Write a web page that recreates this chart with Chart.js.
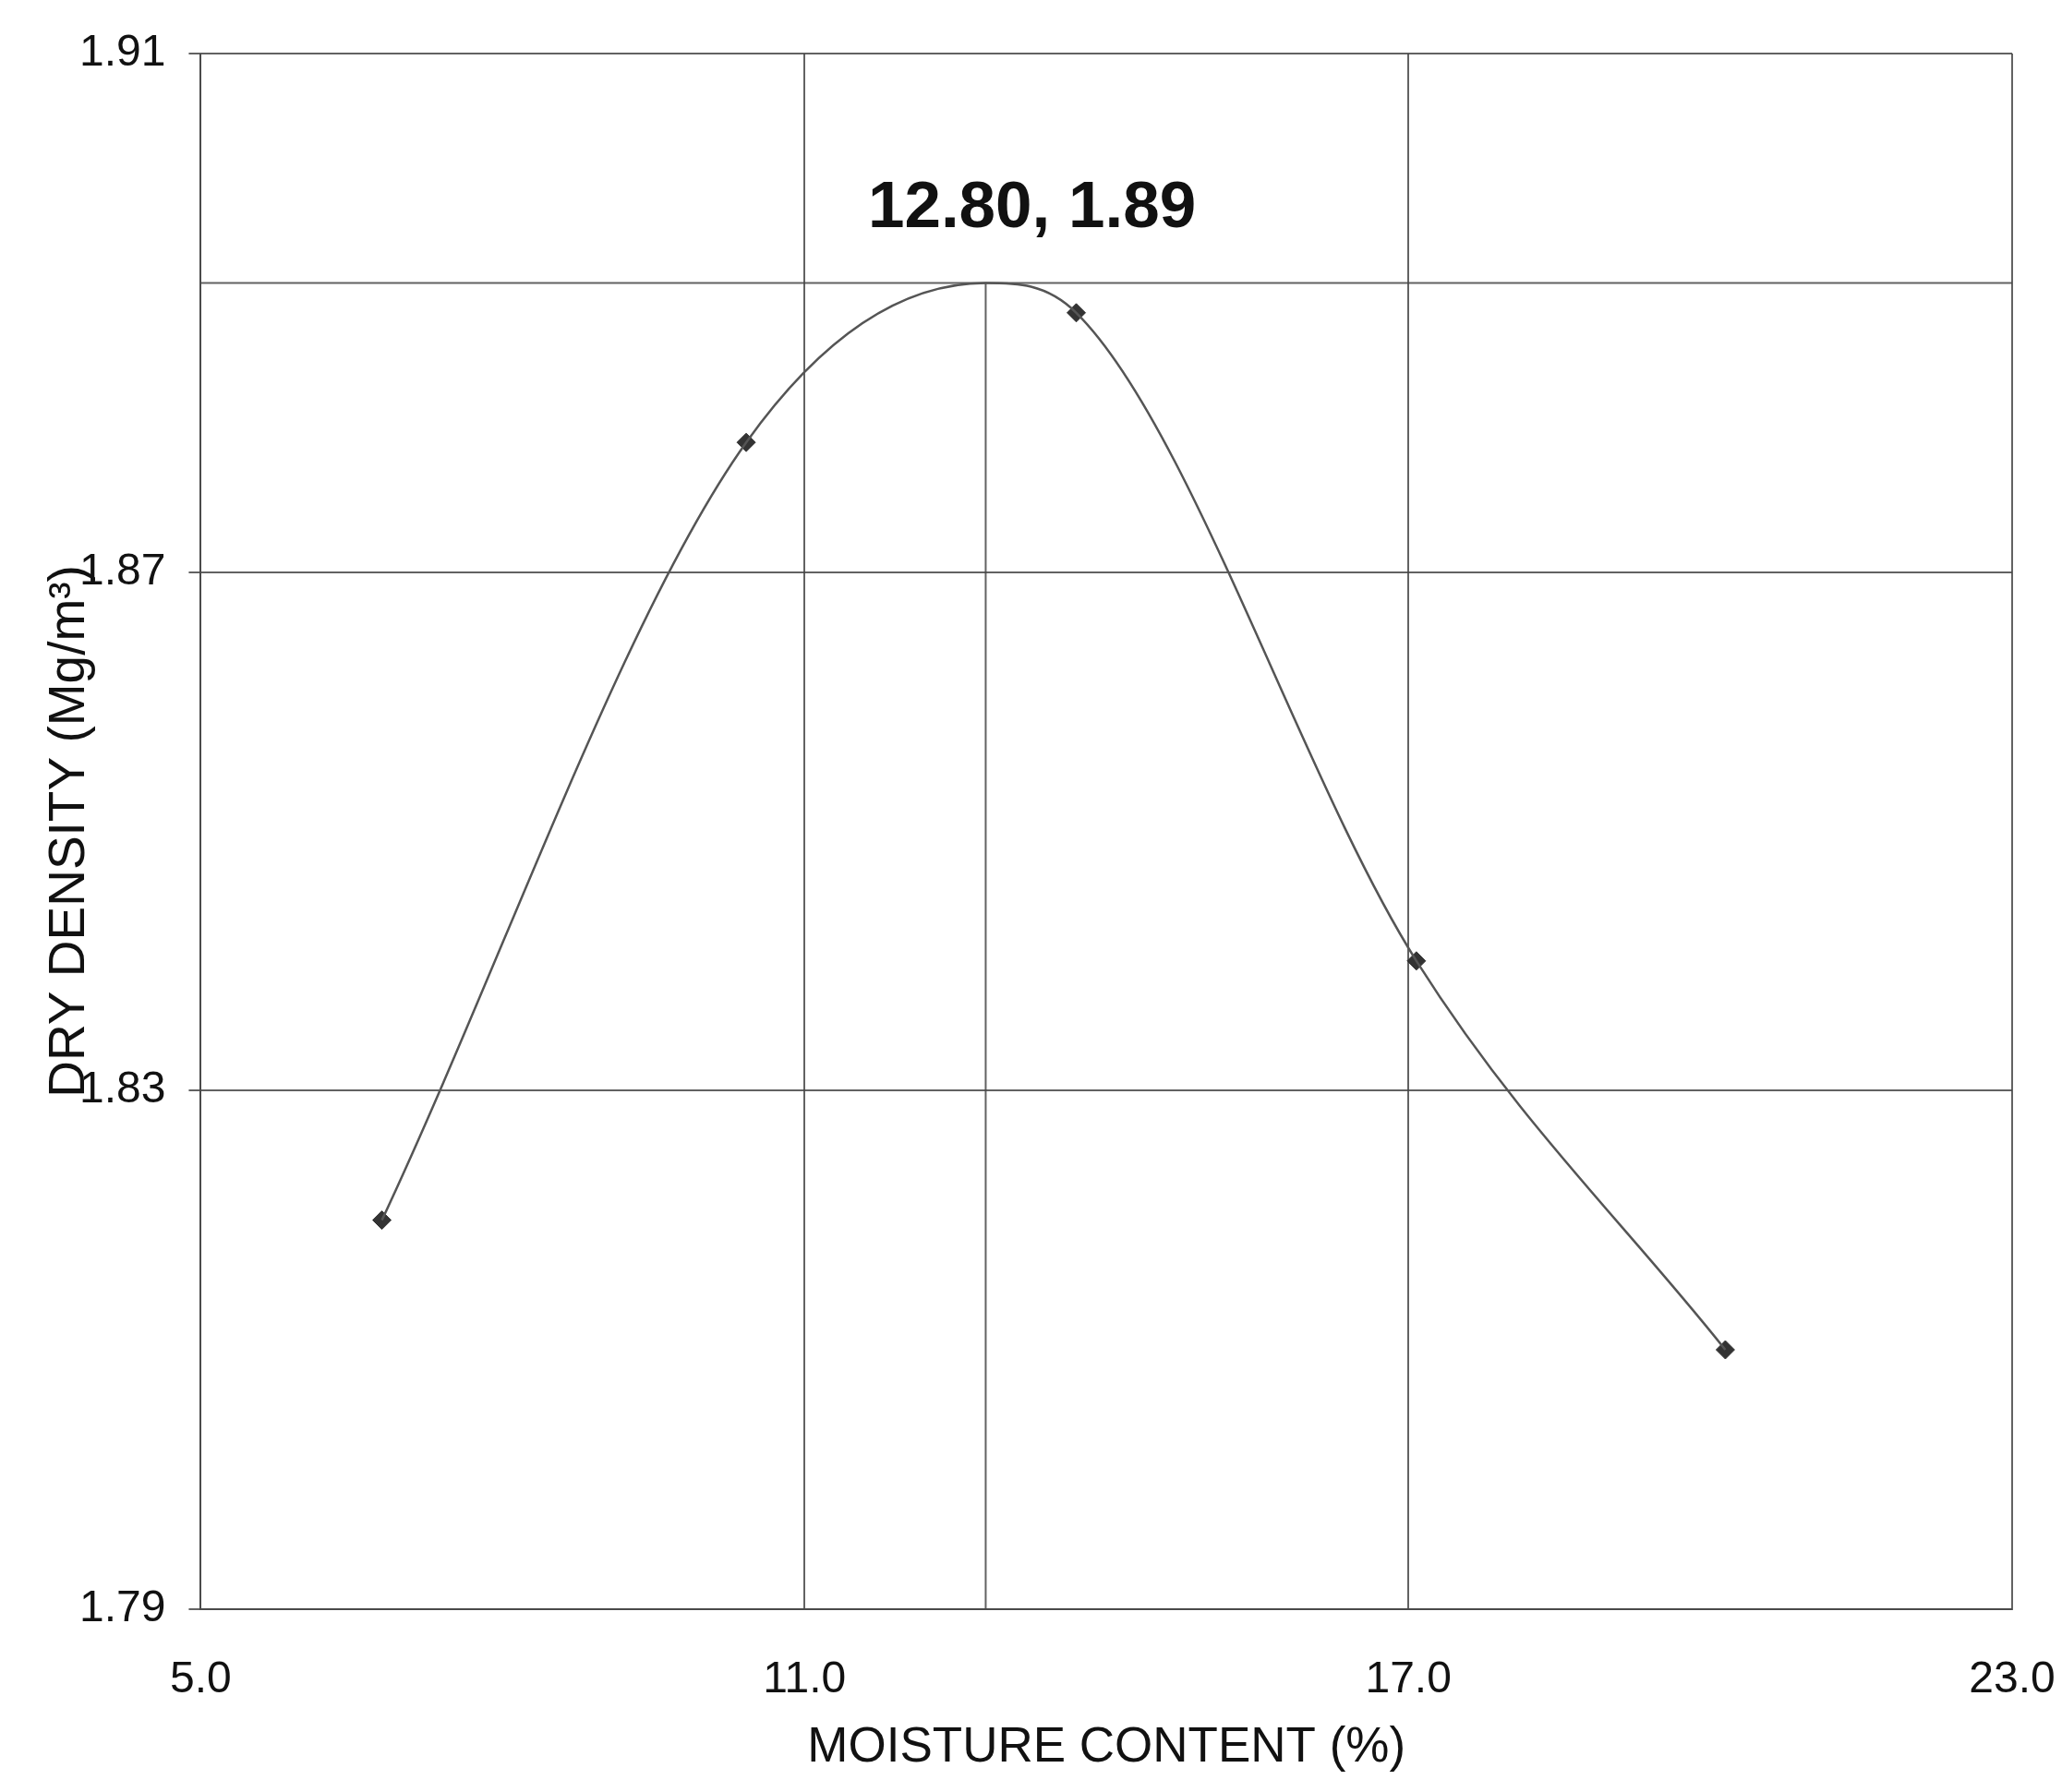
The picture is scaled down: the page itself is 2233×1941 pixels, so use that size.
<!DOCTYPE html>
<html>
<head>
<meta charset="utf-8">
<title>Compaction curve</title>
<script src="https://cdn.jsdelivr.net/npm/chart.js@4.4.1/dist/chart.umd.min.js"></script>
<style>
    html, body { margin: 0; padding: 0; background: #fff; }
    #wrap { width: 2233px; height: 1941px; }
</style>
</head>
<body>
<div id="wrap"><canvas id="compactionChart"></canvas></div>
<script>
// test points
const moisture = [6.8, 10.42, 13.7, 17.08, 20.15];
const dryDensity = [1.820, 1.880, 1.890, 1.840, 1.810];

// optimum (peak of the curve)
const optMoisture = 12.8;
const maxDensity = 1.8923;
const optLabel = '12.80, 1.89';

const xTicks = [5, 11, 17, 23];
const yTicks = [1.79, 1.83, 1.87, 1.91];

const fontFamily = '"Liberation Sans", Arial, sans-serif';
const gridColor = 'rgba(70,70,70,0.85)';
const inkColor = '#111';

// curve goes through the test points and the peak
const curvePoints = moisture.map((m, i) => ({ x: m, y: dryDensity[i] }));
curvePoints.push({ x: optMoisture, y: maxDensity });
curvePoints.sort((a, b) => a.x - b.x);

const peakLabel = {
    id: 'peakLabel',
    afterDatasetsDraw(chart, args, opts) {
        const { ctx, scales: { x, y } } = chart;
        ctx.save();
        ctx.font = 'bold 71px ' + fontFamily;
        ctx.fillStyle = inkColor;
        ctx.textAlign = 'center';
        ctx.textBaseline = 'middle';
        ctx.fillText(optLabel, x.getPixelForValue(opts.x), y.getPixelForValue(opts.y));
        ctx.restore();
    }
};

let ctx = document.getElementById('compactionChart');

let compactionChart = new Chart(ctx, {
    type: 'scatter',
    data: {
        datasets: [
            {
                label: 'curve',
                data: curvePoints,
                showLine: true,
                cubicInterpolationMode: 'monotone',
                borderColor: '#555',
                borderWidth: 2.5,
                pointRadius: 0
            },
            {
                label: 'test points',
                data: moisture.map((m, i) => ({ x: m, y: dryDensity[i] })),
                pointStyle: 'rectRot',
                pointRadius: 10,
                backgroundColor: '#333',
                borderColor: '#333'
            },
            {
                label: 'optimum moisture',
                data: [{ x: optMoisture, y: yTicks[0] }, { x: optMoisture, y: maxDensity }],
                showLine: true,
                borderColor: gridColor,
                borderWidth: 2,
                pointRadius: 0
            },
            {
                label: 'max dry density',
                data: [{ x: xTicks[0], y: maxDensity }, { x: xTicks[xTicks.length - 1], y: maxDensity }],
                showLine: true,
                borderColor: gridColor,
                borderWidth: 2,
                pointRadius: 0
            }
        ]
    },
    options: {
        responsive: true,
        maintainAspectRatio: false,
        animation: false,
        layout: { padding: { left: 43, right: 54, top: 58, bottom: 16 } },
        plugins: {
            legend: { display: false },
            tooltip: { enabled: false },
            peakLabel: { x: 13.26, y: 1.898 }
        },
        scales: {
            x: {
                type: 'linear',
                min: xTicks[0],
                max: xTicks[xTicks.length - 1],
                afterBuildTicks: scale => { scale.ticks = xTicks.map(v => ({ value: v })); },
                // tick marks kept invisible, they only push the labels down
                grid: { color: gridColor, lineWidth: 2, tickLength: 48, tickColor: 'rgba(0,0,0,0)' },
                border: { color: gridColor, width: 2 },
                ticks: {
                    padding: 0,
                    color: inkColor,
                    font: { size: 48, family: fontFamily },
                    callback: v => v.toFixed(1)
                },
                title: {
                    display: true,
                    text: 'MOISTURE CONTENT (%)',
                    color: inkColor,
                    font: { size: 53, family: fontFamily },
                    padding: { top: 13, bottom: 0 }
                }
            },
            y: {
                type: 'linear',
                min: yTicks[0],
                max: yTicks[yTicks.length - 1],
                afterBuildTicks: scale => { scale.ticks = yTicks.map(v => ({ value: v })); },
                grid: { color: gridColor, lineWidth: 2, tickLength: 13 },
                border: { color: gridColor, width: 2 },
                ticks: {
                    padding: 25,
                    color: inkColor,
                    font: { size: 48, family: fontFamily },
                    callback: v => v.toFixed(2)
                },
                title: {
                    display: true,
                    text: 'DRY DENSITY (Mg/m³)',
                    color: inkColor,
                    font: { size: 55, family: fontFamily },
                    padding: { top: 0, bottom: -48 }
                }
            }
        }
    },
    plugins: [peakLabel]
});
</script>
</body>
</html>
